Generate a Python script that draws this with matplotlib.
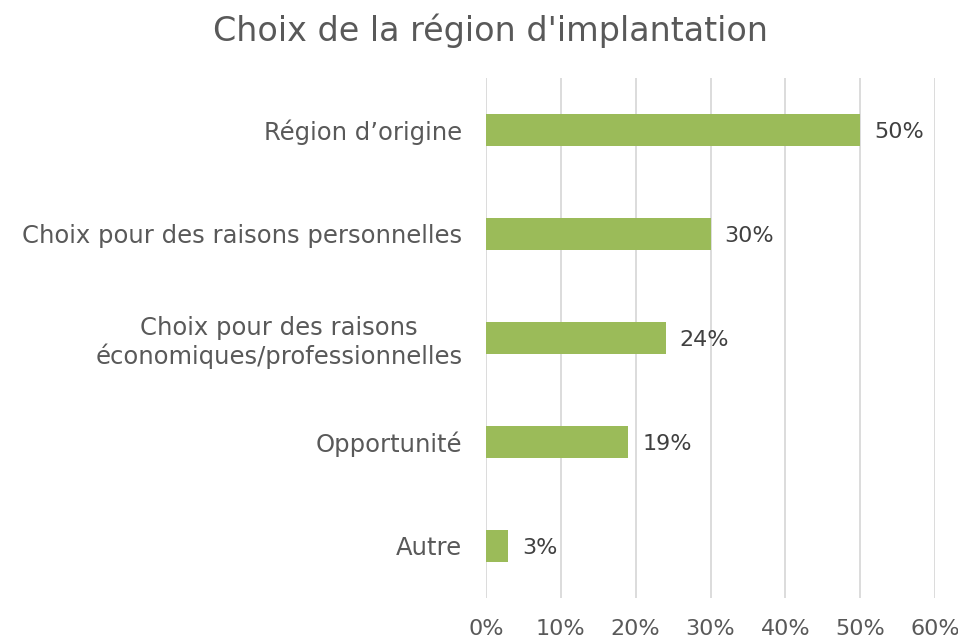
import matplotlib
matplotlib.use("Agg")
from matplotlib import pyplot as plt
import numpy as np

# data
categories = ["Région d’origine",
              "Choix pour des raisons personnelles",
              "Choix pour des raisons\néconomiques/professionnelles",
              "Opportunité",
              "Autre"]
values = [50, 30, 24, 19, 3]
x_ticks = [0, 10, 20, 30, 40, 50, 60]

bar_color = "#9bbb59"
text_color = "#595959"

plt.rcParams["font.family"] = ["DejaVu Sans"]

fig = plt.figure(figsize=(9.58, 6.43), dpi=100, facecolor="white")
ax = fig.add_axes([0.5073, 0.070, 0.4687, 0.8087])

y_pos = np.arange(len(categories))
ax.barh(y_pos, values, height=0.31, color=bar_color, zorder=3)

for y, v in zip(y_pos, values):
    ax.text(v + 1.9, y + 0.02, f"{v}%", va="center", ha="left", fontsize=16, color="#404040")

ax.set_xlim(0, 60)
ax.set_ylim(len(categories) - 0.5, -0.5)
ax.set_yticks(y_pos)
ax.set_yticklabels(categories, fontsize=17.5, color=text_color, ha="right", multialignment="center")
ax.set_xticks(x_ticks)
ax.set_xticklabels([f"{t}%" for t in x_ticks], fontsize=16, color=text_color)
ax.tick_params(axis="both", length=0)
ax.tick_params(axis="y", pad=17)
ax.tick_params(axis="x", pad=15)

ax.grid(axis="x", color="#d9d9d9", linewidth=1.3, zorder=0)
for s in ax.spines.values():
    s.set_visible(False)

fig.text(0.512, 0.952, "Choix de la région d'implantation", ha="center", va="center",
         fontsize=24, color=text_color)

fig.savefig("out.png", dpi=100)
